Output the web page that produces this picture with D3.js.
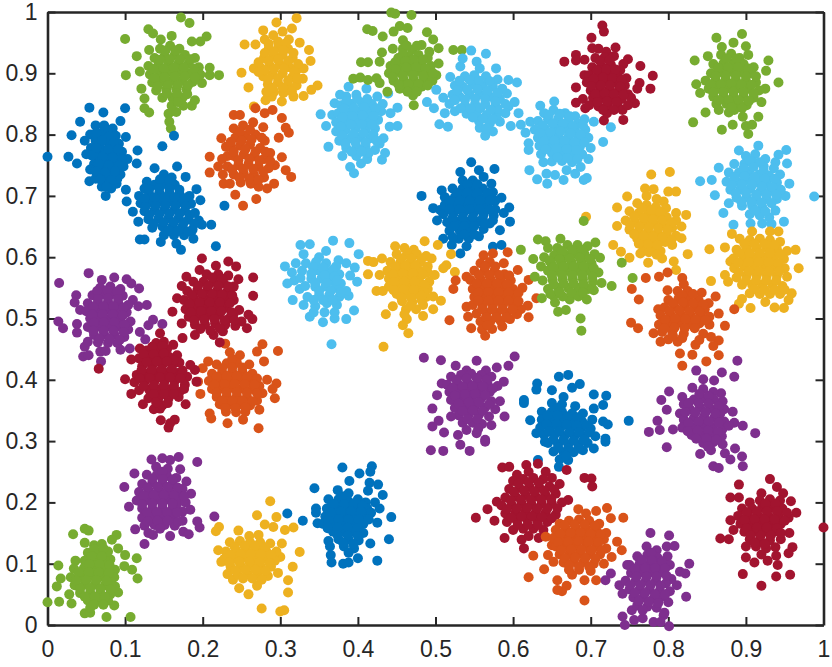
<!DOCTYPE html>
<html>
<head>
<meta charset="utf-8">
<script src="https://cdn.jsdelivr.net/npm/d3@7"></script>
<style>
  html, body { margin: 0; background: #fff; }
  svg { display: block; }
  .tick text { font-family: "Liberation Sans", Arial, sans-serif; }
</style>
</head>
<body>
<svg id="grafico" width="832" height="667"></svg>
<script>
const xTicks = [0, 0.1, 0.2, 0.3, 0.4, 0.5, 0.6, 0.7, 0.8, 0.9, 1];
const yTicks = [0, 0.1, 0.2, 0.3, 0.4, 0.5, 0.6, 0.7, 0.8, 0.9, 1];

// valores, um array por nuvem de pontos
const amareloA = [[.254,.947],[.25,.901],[.259,.877],[.266,.908],[.268,.947],[.278,.97],[.295,.983],[.321,.99],[.315,.973],[.325,.95],[.337,.938],[.339,.92],[.33,.908],[.329,.891],[.348,.88],[.34,.873],[.33,.863],[.317,.862],[.302,.854],[.266,.846],[.289,.862],[.281,.856],[.28,.955],[.291,.962],[.303,.968],[.311,.955],[.285,.94],[.298,.945],[.31,.94],[.279,.925],[.291,.928],[.303,.93],[.316,.925],[.274,.91],[.286,.913],[.299,.915],[.312,.91],[.321,.905],[.278,.895],[.29,.898],[.303,.9],[.315,.893],[.284,.882],[.297,.885],[.31,.878],[.321,.88],[.292,.87],[.304,.868],[.285,.948],[.297,.952],[.307,.949],[.28,.933],[.292,.936],[.304,.938],[.317,.933],[.272,.918],[.285,.92],[.297,.922],[.31,.92],[.323,.915],[.28,.905],[.292,.907],[.305,.908],[.318,.902],[.272,.902],[.284,.89],[.297,.892],[.31,.888],[.322,.892],[.29,.876],[.303,.877],[.315,.87],[.282,.87]];
const laranjaA = [[.227,.72],[.242,.702],[.252,.684],[.269,.695],[.209,.764],[.209,.738],[.224,.794],[.24,.832],[.248,.832],[.268,.843],[.28,.835],[.311,.803],[.307,.811],[.302,.827],[.314,.731],[.307,.742],[.302,.763],[.29,.84],[.298,.795],[.292,.72],[.283,.712],[.22,.748],[.23,.78],[.24,.81],[.252,.815],[.265,.82],[.278,.812],[.242,.795],[.255,.798],[.268,.8],[.28,.79],[.232,.765],[.236,.78],[.248,.782],[.261,.784],[.274,.778],[.287,.77],[.225,.76],[.24,.765],[.253,.768],[.266,.765],[.279,.76],[.293,.75],[.232,.748],[.246,.75],[.259,.752],[.272,.748],[.285,.745],[.24,.735],[.253,.736],[.266,.735],[.279,.73],[.249,.722],[.262,.72],[.272,.715],[.235,.72],[.248,.805],[.261,.808],[.236,.788],[.25,.79],[.263,.792],[.276,.795],[.24,.772],[.255,.776],[.268,.772],[.281,.772],[.246,.758],[.26,.76],[.273,.758],[.287,.757],[.238,.743],[.252,.744],[.265,.744],[.278,.74],[.247,.73],[.26,.728],[.272,.726],[.226,.735]];
const azulClaroA = [[.352,.833],[.359,.814],[.362,.78],[.38,.765],[.39,.747],[.395,.737],[.404,.753],[.412,.76],[.431,.759],[.435,.77],[.433,.794],[.451,.844],[.451,.814],[.441,.813],[.388,.878],[.411,.875],[.377,.865],[.37,.851],[.367,.832],[.439,.867],[.385,.862],[.398,.865],[.425,.862],[.378,.848],[.392,.85],[.405,.852],[.418,.85],[.432,.85],[.375,.835],[.388,.836],[.402,.838],[.415,.836],[.43,.838],[.442,.835],[.372,.82],[.385,.822],[.398,.825],[.412,.822],[.426,.824],[.372,.805],[.384,.808],[.397,.81],[.41,.808],[.422,.81],[.376,.79],[.39,.794],[.403,.796],[.416,.794],[.428,.785],[.385,.778],[.398,.78],[.41,.78],[.422,.775],[.398,.765],[.414,.77],[.385,.855],[.399,.858],[.412,.858],[.382,.842],[.395,.843],[.408,.845],[.423,.843],[.38,.828],[.393,.83],[.406,.831],[.42,.83],[.378,.813],[.391,.816],[.405,.817],[.418,.816],[.38,.798],[.394,.801],[.407,.802],[.42,.8],[.384,.785],[.397,.787],[.41,.787],[.424,.79],[.392,.772],[.405,.772]];
const verdeB = [[.443,.999],[.448,.997],[.469,.995],[.412,.972],[.419,.969],[.432,.96],[.446,.968],[.454,.977],[.464,.974],[.489,.967],[.497,.955],[.523,.938],[.534,.938],[.431,.934],[.428,.919],[.404,.918],[.413,.918],[.394,.891],[.403,.893],[.413,.889],[.424,.892],[.428,.884],[.438,.87],[.472,.848],[.471,.864],[.454,.875],[.458,.954],[.504,.941],[.504,.916],[.501,.897],[.482,.946],[.445,.94],[.458,.94],[.47,.938],[.492,.935],[.452,.925],[.465,.928],[.478,.93],[.49,.925],[.442,.912],[.455,.914],[.468,.916],[.481,.916],[.494,.912],[.44,.9],[.452,.902],[.465,.904],[.478,.904],[.49,.9],[.446,.888],[.459,.89],[.472,.89],[.485,.888],[.496,.888],[.458,.878],[.47,.876],[.482,.878],[.463,.945],[.476,.945],[.458,.932],[.471,.922],[.484,.922],[.448,.918],[.461,.92],[.449,.907],[.462,.91],[.475,.91],[.487,.908],[.445,.894],[.458,.896],[.471,.897],[.484,.896],[.497,.9],[.452,.882],[.465,.883],[.478,.883],[.49,.88],[.464,.87],[.476,.87]];
const azulClaroB = [[.489,.853],[.498,.843],[.505,.817],[.516,.813],[.512,.835],[.501,.873],[.519,.894],[.532,.911],[.535,.924],[.546,.937],[.565,.932],[.553,.919],[.557,.908],[.578,.908],[.594,.889],[.605,.885],[.592,.867],[.602,.853],[.594,.846],[.607,.835],[.597,.814],[.583,.821],[.574,.805],[.564,.798],[.557,.811],[.51,.86],[.525,.88],[.538,.895],[.55,.897],[.565,.895],[.58,.89],[.522,.865],[.535,.878],[.548,.882],[.561,.88],[.574,.878],[.586,.875],[.518,.85],[.531,.862],[.544,.866],[.557,.866],[.57,.862],[.583,.858],[.525,.838],[.538,.848],[.551,.85],[.564,.85],[.577,.846],[.59,.835],[.54,.834],[.553,.836],[.566,.832],[.579,.832],[.556,.822],[.57,.818],[.58,.842],[.531,.888],[.544,.889],[.556,.888],[.57,.887],[.528,.872],[.541,.873],[.554,.874],[.567,.871],[.58,.868],[.525,.856],[.538,.857],[.551,.858],[.564,.858],[.577,.854],[.59,.85],[.532,.843],[.545,.842],[.558,.843],[.571,.84],[.548,.828],[.561,.826],[.574,.825],[.565,.81]];
const azulClaroC = [[.61,.816],[.616,.803],[.622,.821],[.635,.847],[.653,.854],[.62,.786],[.62,.775],[.621,.742],[.631,.727],[.644,.72],[.643,.736],[.654,.734],[.639,.755],[.667,.835],[.726,.812],[.716,.788],[.704,.821],[.697,.76],[.695,.729],[.691,.726],[.68,.736],[.665,.726],[.669,.742],[.687,.747],[.64,.835],[.652,.84],[.68,.83],[.692,.825],[.632,.822],[.645,.825],[.658,.826],[.671,.822],[.684,.818],[.628,.808],[.641,.81],[.654,.812],[.667,.81],[.68,.806],[.693,.808],[.632,.795],[.645,.797],[.658,.798],[.671,.796],[.684,.794],[.697,.795],[.634,.782],[.647,.784],[.66,.785],[.673,.783],[.686,.78],[.7,.778],[.636,.768],[.65,.77],[.663,.771],[.676,.769],[.689,.768],[.65,.756],[.663,.757],[.676,.755],[.646,.832],[.66,.834],[.673,.83],[.638,.815],[.651,.818],[.664,.818],[.677,.814],[.69,.815],[.635,.802],[.648,.804],[.661,.805],[.674,.802],[.687,.8],[.64,.789],[.653,.79],[.666,.79],[.679,.788],[.692,.787],[.642,.776],[.656,.777],[.669,.776],[.682,.774],[.657,.763],[.67,.762],[.683,.76]];
const vermelhoA = [[.715,.978],[.717,.968],[.701,.958],[.702,.941],[.681,.93],[.681,.921],[.666,.919],[.692,.922],[.732,.942],[.748,.923],[.764,.912],[.78,.896],[.763,.884],[.76,.875],[.777,.875],[.757,.851],[.742,.824],[.717,.823],[.721,.835],[.693,.843],[.681,.852],[.681,.877],[.692,.897],[.741,.84],[.71,.94],[.72,.935],[.706,.925],[.718,.926],[.73,.928],[.742,.915],[.702,.91],[.714,.912],[.726,.914],[.738,.905],[.698,.897],[.71,.898],[.722,.9],[.734,.898],[.746,.892],[.695,.885],[.707,.885],[.719,.887],[.731,.885],[.744,.88],[.7,.872],[.712,.873],[.724,.874],[.736,.872],[.748,.866],[.69,.858],[.703,.86],[.715,.86],[.727,.86],[.74,.858],[.752,.86],[.698,.848],[.71,.846],[.722,.848],[.735,.846],[.748,.848],[.712,.92],[.724,.921],[.708,.905],[.72,.906],[.732,.906],[.704,.891],[.716,.893],[.728,.892],[.74,.89],[.701,.879],[.713,.88],[.725,.88],[.738,.878],[.706,.866],[.718,.867],[.73,.866],[.742,.865],[.709,.853],[.721,.854],[.733,.853],[.716,.84],[.73,.84]];
const azulClaroD = [[.916,.782],[.952,.775],[.891,.774],[.942,.767],[.953,.753],[.865,.746],[.841,.724],[.856,.726],[.956,.72],[.988,.699],[.951,.7],[.86,.701],[.878,.688],[.871,.672],[.938,.676],[.884,.653],[.906,.655],[.921,.655],[.933,.654],[.949,.658],[.9,.765],[.912,.768],[.925,.76],[.938,.755],[.885,.752],[.898,.752],[.91,.754],[.923,.748],[.936,.745],[.878,.738],[.891,.738],[.904,.74],[.917,.735],[.93,.733],[.944,.735],[.875,.723],[.888,.724],[.901,.726],[.914,.722],[.927,.72],[.94,.722],[.88,.71],[.893,.711],[.906,.712],[.919,.708],[.932,.708],[.945,.71],[.888,.697],[.901,.698],[.914,.695],[.927,.695],[.94,.695],[.895,.684],[.908,.684],[.921,.682],[.905,.67],[.918,.668],[.93,.665],[.905,.758],[.918,.755],[.897,.745],[.91,.747],[.923,.741],[.885,.731],[.898,.732],[.911,.731],[.924,.728],[.937,.728],[.882,.717],[.895,.718],[.908,.718],[.921,.715],[.934,.714],[.887,.704],[.9,.705],[.913,.702],[.926,.702],[.939,.702],[.894,.691],[.907,.69],[.92,.689],[.933,.688],[.912,.676],[.925,.675]];
const amareloD = [[.882,.638],[.873,.616],[.964,.612],[.968,.582],[.959,.541],[.955,.53],[.949,.517],[.937,.518],[.906,.517],[.895,.532],[.891,.524],[.877,.56],[.873,.571],[.88,.593],[.942,.642],[.908,.642],[.931,.642],[.953,.568],[.855,.561],[.853,.613],[.925,.527],[.892,.63],[.905,.628],[.918,.63],[.931,.628],[.944,.625],[.888,.612],[.901,.614],[.914,.615],[.927,.615],[.94,.613],[.953,.61],[.884,.598],[.897,.6],[.91,.6],[.923,.6],[.936,.6],[.949,.597],[.885,.582],[.898,.585],[.911,.585],[.924,.585],[.937,.585],[.95,.582],[.888,.567],[.901,.57],[.914,.57],[.927,.57],[.94,.57],[.895,.555],[.908,.555],[.921,.555],[.934,.555],[.947,.553],[.905,.541],[.918,.54],[.931,.54],[.944,.54],[.898,.622],[.911,.622],[.924,.622],[.937,.62],[.892,.607],[.905,.607],[.918,.607],[.931,.607],[.944,.605],[.89,.591],[.903,.592],[.916,.592],[.929,.592],[.942,.59],[.891,.575],[.904,.577],[.917,.577],[.93,.577],[.943,.577],[.9,.562],[.913,.562],[.926,.562],[.939,.562],[.911,.548],[.924,.547],[.937,.547],[.95,.547]];
const amareloC = [[.778,.735],[.802,.739],[.747,.699],[.734,.681],[.77,.712],[.781,.711],[.8,.707],[.81,.707],[.794,.691],[.823,.669],[.729,.62],[.739,.609],[.75,.599],[.764,.606],[.774,.591],[.792,.598],[.807,.593],[.81,.579],[.825,.605],[.817,.631],[.805,.62],[.734,.651],[.694,.666],[.772,.7],[.785,.695],[.76,.688],[.772,.685],[.784,.682],[.797,.68],[.81,.672],[.75,.675],[.762,.672],[.774,.67],[.786,.668],[.798,.665],[.81,.66],[.745,.66],[.757,.658],[.769,.656],[.781,.655],[.793,.652],[.805,.648],[.817,.65],[.75,.645],[.762,.643],[.774,.642],[.786,.64],[.798,.638],[.81,.635],[.76,.63],[.772,.628],[.784,.627],[.796,.625],[.768,.617],[.78,.615],[.79,.61],[.766,.68],[.778,.677],[.79,.674],[.756,.666],[.768,.664],[.78,.662],[.792,.66],[.804,.656],[.751,.652],[.763,.65],[.775,.649],[.787,.647],[.799,.645],[.756,.637],[.768,.635],[.78,.634],[.792,.632],[.804,.628],[.762,.622],[.774,.621],[.786,.62],[.775,.608],[.785,.604]];
const laranjaC = [[.771,.566],[.753,.548],[.762,.531],[.788,.568],[.799,.575],[.818,.566],[.752,.493],[.761,.484],[.781,.476],[.79,.462],[.815,.443],[.818,.423],[.831,.441],[.849,.43],[.865,.44],[.865,.464],[.873,.488],[.865,.508],[.861,.536],[.885,.515],[.843,.542],[.799,.546],[.787,.515],[.835,.457],[.858,.455],[.82,.556],[.812,.545],[.825,.545],[.8,.53],[.813,.532],[.826,.532],[.839,.53],[.852,.525],[.795,.518],[.808,.519],[.821,.52],[.834,.518],[.847,.515],[.79,.505],[.803,.506],[.816,.507],[.829,.505],[.842,.505],[.853,.503],[.788,.49],[.801,.492],[.814,.493],[.827,.491],[.84,.492],[.853,.49],[.792,.478],[.805,.478],[.82,.475],[.845,.475],[.855,.47],[.8,.466],[.812,.462],[.84,.465],[.818,.538],[.832,.54],[.806,.525],[.819,.526],[.832,.525],[.845,.523],[.801,.512],[.814,.513],[.827,.512],[.84,.511],[.796,.498],[.809,.5],[.822,.499],[.835,.498],[.848,.497],[.795,.484],[.808,.485],[.821,.484],[.834,.484],[.806,.472],[.818,.468]];
const roxoB = [[.485,.436],[.602,.438],[.507,.432],[.594,.423],[.526,.423],[.553,.431],[.579,.42],[.588,.397],[.583,.365],[.589,.34],[.572,.326],[.508,.394],[.502,.375],[.496,.353],[.504,.333],[.496,.324],[.511,.314],[.529,.31],[.553,.313],[.564,.302],[.494,.285],[.51,.284],[.532,.294],[.544,.284],[.564,.299],[.54,.415],[.565,.415],[.52,.405],[.533,.408],[.546,.41],[.559,.408],[.572,.405],[.515,.392],[.528,.395],[.541,.396],[.554,.396],[.567,.393],[.58,.39],[.518,.38],[.531,.382],[.544,.383],[.557,.383],[.57,.38],[.52,.367],[.533,.369],[.546,.37],[.559,.37],[.572,.365],[.525,.354],[.538,.356],[.551,.357],[.564,.355],[.577,.352],[.53,.342],[.543,.343],[.556,.343],[.569,.34],[.535,.33],[.548,.33],[.56,.328],[.52,.34],[.54,.318],[.555,.32],[.527,.4],[.54,.402],[.553,.403],[.566,.4],[.522,.387],[.535,.389],[.548,.39],[.561,.389],[.574,.386],[.525,.374],[.538,.376],[.551,.377],[.564,.375],[.53,.361],[.543,.363],[.556,.363],[.569,.36],[.535,.349],[.548,.35],[.561,.349],[.541,.336],[.554,.336]];
const roxoC = [[.889,.431],[.836,.415],[.869,.412],[.885,.405],[.845,.401],[.859,.399],[.801,.381],[.831,.387],[.791,.367],[.798,.351],[.786,.333],[.775,.315],[.789,.318],[.806,.319],[.896,.325],[.912,.313],[.883,.348],[.868,.378],[.798,.29],[.841,.279],[.858,.259],[.865,.256],[.896,.259],[.895,.275],[.886,.288],[.873,.28],[.88,.27],[.818,.372],[.845,.385],[.858,.38],[.87,.365],[.82,.36],[.833,.368],[.846,.37],[.859,.368],[.872,.352],[.815,.345],[.828,.352],[.841,.355],[.854,.353],[.867,.345],[.82,.335],[.833,.338],[.846,.34],[.859,.338],[.872,.332],[.885,.33],[.818,.322],[.831,.323],[.844,.325],[.857,.323],[.87,.32],[.83,.31],[.843,.31],[.856,.31],[.869,.308],[.845,.297],[.858,.298],[.87,.295],[.855,.285],[.84,.377],[.852,.374],[.826,.362],[.839,.362],[.852,.361],[.865,.357],[.822,.347],[.835,.347],[.848,.347],[.861,.345],[.826,.33],[.839,.332],[.852,.332],[.865,.33],[.878,.325],[.825,.316],[.838,.317],[.851,.317],[.864,.315],[.836,.304],[.849,.304],[.862,.302],[.851,.291]];
const azulE = [[.671,.408],[.659,.405],[.676,.387],[.686,.393],[.704,.376],[.72,.374],[.716,.359],[.68,.357],[.704,.353],[.716,.332],[.722,.327],[.749,.333],[.719,.304],[.719,.299],[.614,.367],[.614,.362],[.631,.394],[.63,.384],[.622,.334],[.65,.383],[.63,.313],[.704,.288],[.632,.269],[.641,.299],[.671,.269],[.659,.258],[.665,.372],[.65,.362],[.663,.36],[.69,.345],[.637,.348],[.65,.348],[.663,.348],[.676,.345],[.637,.335],[.65,.335],[.663,.335],[.676,.332],[.689,.332],[.702,.335],[.635,.322],[.648,.322],[.661,.322],[.674,.32],[.687,.32],[.7,.32],[.64,.31],[.653,.31],[.666,.308],[.679,.308],[.692,.308],[.706,.308],[.645,.297],[.658,.295],[.671,.295],[.684,.295],[.696,.297],[.652,.283],[.665,.282],[.678,.282],[.69,.285],[.66,.27],[.657,.354],[.644,.342],[.657,.342],[.67,.34],[.683,.339],[.643,.328],[.656,.328],[.669,.327],[.682,.326],[.695,.326],[.646,.316],[.659,.316],[.672,.314],[.685,.314],[.698,.314],[.652,.303],[.665,.302],[.678,.301],[.691,.302],[.658,.289],[.671,.288],[.684,.288],[.668,.276]];
const azulD = [[.38,.257],[.418,.259],[.416,.25],[.402,.247],[.389,.235],[.415,.232],[.426,.229],[.344,.223],[.413,.219],[.432,.212],[.309,.182],[.329,.17],[.346,.19],[.346,.183],[.348,.166],[.443,.176],[.425,.167],[.44,.14],[.416,.133],[.362,.137],[.365,.114],[.366,.102],[.381,.1],[.388,.102],[.4,.109],[.425,.105],[.428,.19],[.364,.128],[.374,.22],[.388,.215],[.4,.205],[.362,.205],[.375,.205],[.388,.202],[.41,.2],[.422,.2],[.36,.19],[.373,.192],[.386,.19],[.399,.192],[.412,.19],[.358,.177],[.371,.178],[.384,.178],[.397,.178],[.41,.178],[.355,.165],[.368,.165],[.381,.165],[.394,.165],[.407,.165],[.368,.152],[.381,.152],[.394,.152],[.407,.15],[.375,.14],[.388,.14],[.401,.138],[.382,.128],[.395,.125],[.38,.21],[.369,.198],[.382,.197],[.395,.198],[.406,.195],[.365,.184],[.378,.185],[.391,.185],[.404,.185],[.417,.183],[.362,.171],[.375,.172],[.388,.172],[.401,.172],[.414,.172],[.361,.158],[.374,.159],[.387,.159],[.4,.158],[.374,.146],[.387,.146],[.4,.145],[.381,.134],[.394,.132],[.388,.118]];
const vermelhoD = [[.586,.257],[.595,.258],[.617,.261],[.632,.263],[.552,.175],[.567,.189],[.576,.17],[.579,.201],[.589,.142],[.614,.125],[.611,.139],[.669,.253],[.692,.24],[.701,.239],[.702,.226],[.671,.204],[.62,.25],[.65,.24],[.605,.245],[.642,.25],[.6,.235],[.613,.238],[.626,.24],[.639,.238],[.595,.222],[.608,.224],[.621,.226],[.634,.224],[.647,.226],[.66,.23],[.59,.208],[.603,.21],[.616,.212],[.629,.21],[.642,.212],[.655,.214],[.585,.195],[.598,.196],[.611,.198],[.624,.196],[.637,.198],[.65,.198],[.663,.2],[.59,.182],[.603,.183],[.616,.185],[.629,.183],[.642,.183],[.655,.18],[.592,.168],[.605,.17],[.618,.172],[.631,.17],[.644,.168],[.6,.155],[.613,.157],[.626,.157],[.639,.155],[.62,.145],[.633,.142],[.607,.231],[.62,.233],[.633,.232],[.601,.217],[.614,.219],[.627,.218],[.64,.219],[.653,.221],[.597,.203],[.61,.204],[.623,.204],[.636,.205],[.649,.205],[.592,.189],[.605,.19],[.618,.191],[.631,.19],[.644,.19],[.657,.19],[.598,.175],[.611,.177],[.624,.177],[.637,.176],[.65,.174],[.606,.163],[.619,.164],[.632,.163]];
const laranjaE = [[.684,.189],[.694,.182],[.707,.186],[.721,.191],[.742,.175],[.726,.174],[.734,.136],[.74,.122],[.727,.111],[.717,.1],[.707,.073],[.692,.073],[.692,.04],[.669,.064],[.663,.055],[.657,.073],[.676,.082],[.626,.113],[.62,.078],[.64,.091],[.645,.114],[.652,.103],[.657,.057],[.642,.144],[.65,.13],[.66,.165],[.672,.17],[.685,.172],[.698,.17],[.711,.165],[.655,.155],[.668,.157],[.681,.158],[.694,.157],[.707,.155],[.72,.15],[.652,.142],[.665,.143],[.678,.144],[.691,.143],[.704,.142],[.717,.14],[.655,.128],[.668,.129],[.681,.13],[.694,.129],[.707,.128],[.72,.125],[.66,.115],[.673,.116],[.686,.117],[.699,.116],[.712,.115],[.665,.102],[.678,.103],[.691,.103],[.704,.1],[.672,.09],[.685,.09],[.7,.088],[.666,.163],[.679,.164],[.692,.164],[.705,.162],[.661,.149],[.674,.15],[.687,.151],[.7,.149],[.713,.148],[.658,.135],[.671,.136],[.684,.137],[.697,.136],[.71,.135],[.662,.122],[.675,.123],[.688,.123],[.701,.122],[.714,.121],[.667,.109],[.68,.11],[.693,.109],[.706,.108],[.672,.097],[.685,.096],[.698,.095]];
const roxoE = [[.777,.15],[.801,.146],[.798,.128],[.808,.129],[.827,.1],[.815,.087],[.822,.084],[.823,.046],[.8,.037],[.811,.065],[.726,.084],[.719,.073],[.737,.065],[.741,.051],[.741,.014],[.744,0],[.756,.008],[.767,.011],[.781,.005],[.794,.016],[.801,-.002],[.79,.005],[.753,.024],[.747,.098],[.772,.128],[.785,.122],[.76,.112],[.773,.114],[.786,.11],[.799,.112],[.75,.098],[.763,.1],[.776,.1],[.789,.098],[.802,.098],[.752,.085],[.765,.086],[.778,.086],[.791,.086],[.804,.075],[.745,.072],[.758,.072],[.771,.072],[.784,.072],[.797,.068],[.75,.058],[.763,.058],[.776,.058],[.789,.056],[.802,.055],[.755,.045],[.768,.045],[.781,.043],[.79,.045],[.76,.032],[.773,.03],[.785,.028],[.795,.02],[.778,.118],[.766,.106],[.779,.106],[.792,.104],[.757,.092],[.77,.093],[.783,.093],[.796,.092],[.759,.079],[.772,.079],[.785,.079],[.798,.08],[.751,.065],[.764,.065],[.777,.065],[.79,.064],[.757,.052],[.77,.052],[.783,.05],[.796,.05],[.762,.039],[.775,.038],[.787,.036],[.767,.024]];
const vermelhoE = [[.931,.238],[.891,.229],[.88,.208],[.891,.208],[.92,.215],[.958,.202],[.965,.183],[1,.159],[.956,.15],[.96,.127],[.955,.117],[.939,.113],[.941,.098],[.957,.082],[.939,.079],[.92,.064],[.896,.083],[.9,.11],[.911,.102],[.928,.105],[.867,.141],[.878,.14],[.88,.171],[.884,.155],[.94,.225],[.948,.215],[.905,.2],[.918,.203],[.931,.205],[.944,.203],[.895,.19],[.908,.19],[.921,.192],[.934,.192],[.947,.19],[.89,.178],[.903,.178],[.916,.178],[.929,.178],[.942,.178],[.955,.175],[.893,.165],[.906,.165],[.919,.165],[.932,.165],[.945,.165],[.898,.152],[.911,.152],[.924,.152],[.937,.152],[.905,.14],[.918,.14],[.931,.138],[.945,.14],[.9,.128],[.913,.128],[.926,.125],[.92,.115],[.925,.198],[.938,.198],[.901,.184],[.914,.185],[.927,.185],[.94,.185],[.953,.183],[.898,.171],[.911,.172],[.924,.172],[.937,.172],[.95,.17],[.901,.158],[.914,.159],[.927,.159],[.94,.158],[.906,.146],[.919,.146],[.932,.146],[.945,.15],[.911,.134],[.924,.132],[.938,.127]];
const amareloE = [[.287,.202],[.27,.179],[.295,.176],[.28,.164],[.291,.16],[.221,.16],[.217,.153],[.22,.122],[.224,.103],[.232,.083],[.239,.074],[.247,.06],[.259,.05],[.276,.027],[.27,.064],[.3,.022],[.246,.154],[.305,.024],[.31,.053],[.31,.073],[.316,.095],[.325,.119],[.302,.133],[.317,.159],[.306,.155],[.3,.111],[.26,.145],[.272,.147],[.235,.135],[.248,.137],[.261,.135],[.274,.135],[.287,.133],[.23,.12],[.243,.122],[.256,.123],[.269,.122],[.282,.12],[.295,.12],[.228,.108],[.241,.108],[.254,.11],[.267,.108],[.28,.108],[.293,.105],[.236,.095],[.249,.096],[.262,.097],[.275,.095],[.288,.095],[.245,.082],[.258,.083],[.271,.082],[.284,.08],[.297,.085],[.241,.128],[.254,.129],[.267,.129],[.28,.127],[.236,.114],[.249,.116],[.262,.116],[.275,.115],[.288,.114],[.234,.102],[.247,.103],[.26,.103],[.273,.102],[.286,.101],[.242,.089],[.255,.09],[.268,.09],[.281,.088],[.252,.076],[.264,.076],[.276,.074]];
const roxoD = [[.193,.266],[.169,.274],[.134,.27],[.148,.272],[.158,.269],[.112,.247],[.099,.225],[.105,.193],[.113,.156],[.125,.132],[.136,.147],[.158,.145],[.175,.152],[.182,.148],[.196,.159],[.193,.169],[.184,.188],[.185,.214],[.179,.234],[.171,.254],[.215,.177],[.14,.258],[.155,.255],[.128,.245],[.141,.245],[.154,.243],[.166,.24],[.122,.23],[.135,.232],[.148,.232],[.161,.23],[.174,.222],[.118,.217],[.131,.218],[.144,.219],[.157,.218],[.17,.21],[.115,.203],[.128,.204],[.141,.205],[.154,.205],[.167,.198],[.178,.2],[.122,.19],[.135,.19],[.148,.191],[.161,.19],[.174,.185],[.122,.175],[.135,.176],[.148,.177],[.161,.176],[.174,.17],[.125,.162],[.138,.163],[.151,.163],[.164,.162],[.13,.15],[.148,.25],[.135,.239],[.148,.238],[.161,.237],[.129,.224],[.142,.225],[.155,.225],[.168,.224],[.124,.211],[.137,.212],[.15,.212],[.163,.211],[.176,.21],[.122,.197],[.135,.198],[.148,.198],[.161,.198],[.128,.183],[.141,.184],[.154,.184],[.167,.183],[.129,.169],[.142,.17],[.155,.17],[.168,.168],[.145,.157]];
const verdeE = [[.048,.157],[.053,.154],[.033,.148],[.048,.134],[.089,.147],[.083,.139],[.014,.097],[.017,.076],[.012,.063],[0,.037],[.015,.038],[.031,.035],[.048,.019],[.055,.02],[.076,.013],[.107,.013],[.086,.032],[.091,.053],[.116,.076],[.109,.09],[.099,.096],[.115,.109],[.1,.114],[.091,.125],[.081,.107],[.06,.13],[.07,.132],[.052,.118],[.065,.118],[.078,.12],[.036,.105],[.048,.105],[.061,.106],[.074,.105],[.087,.09],[.034,.092],[.047,.093],[.06,.093],[.073,.092],[.086,.078],[.03,.078],[.043,.079],[.056,.08],[.069,.079],[.082,.07],[.035,.065],[.048,.066],[.061,.066],[.074,.065],[.087,.063],[.028,.05],[.042,.052],[.055,.053],[.068,.052],[.081,.05],[.052,.04],[.065,.04],[.078,.04],[.055,.028],[.06,.124],[.072,.125],[.057,.112],[.07,.112],[.054,.099],[.067,.099],[.08,.098],[.04,.086],[.053,.086],[.066,.086],[.079,.085],[.037,.072],[.05,.073],[.063,.073],[.076,.072],[.042,.059],[.055,.06],[.068,.059],[.081,.058],[.048,.046],[.061,.046],[.074,.046],[.06,.033],[.072,.033]];
const vermelhoC = [[.066,.418],[.145,.476],[.1,.401],[.108,.377],[.123,.36],[.137,.352],[.145,.353],[.146,.334],[.156,.322],[.164,.335],[.158,.329],[.178,.36],[.19,.416],[.192,.397],[.184,.424],[.162,.457],[.174,.468],[.108,.433],[.119,.451],[.14,.46],[.15,.462],[.128,.448],[.141,.448],[.154,.45],[.167,.44],[.118,.435],[.131,.436],[.144,.437],[.157,.437],[.17,.428],[.122,.422],[.135,.423],[.148,.424],[.161,.424],[.174,.415],[.115,.408],[.128,.41],[.141,.411],[.154,.411],[.167,.411],[.18,.405],[.112,.396],[.125,.397],[.138,.398],[.151,.398],[.164,.398],[.177,.392],[.118,.383],[.131,.384],[.144,.384],[.157,.384],[.17,.38],[.13,.37],[.143,.37],[.156,.37],[.169,.372],[.148,.358],[.135,.454],[.148,.455],[.124,.442],[.137,.442],[.15,.443],[.163,.432],[.128,.429],[.141,.43],[.154,.43],[.121,.415],[.134,.416],[.147,.417],[.16,.417],[.173,.41],[.119,.402],[.132,.403],[.145,.404],[.158,.404],[.171,.403],[.124,.39],[.137,.391],[.15,.391],[.163,.39],[.176,.385],[.137,.377],[.15,.377],[.163,.377],[.14,.363],[.155,.362]];
const vermelhoB = [[.199,.598],[.217,.586],[.233,.593],[.243,.585],[.265,.567],[.265,.537],[.196,.579],[.179,.568],[.173,.553],[.167,.533],[.161,.511],[.173,.492],[.19,.473],[.214,.473],[.222,.461],[.226,.479],[.257,.484],[.264,.499],[.259,.506],[.247,.514],[.246,.564],[.205,.572],[.22,.572],[.233,.57],[.188,.56],[.201,.56],[.214,.56],[.227,.558],[.24,.552],[.18,.545],[.193,.546],[.206,.547],[.219,.546],[.232,.545],[.176,.53],[.189,.532],[.202,.533],[.215,.533],[.228,.532],[.24,.53],[.178,.515],[.191,.518],[.204,.519],[.217,.519],[.23,.518],[.24,.508],[.182,.503],[.195,.505],[.208,.506],[.221,.506],[.234,.5],[.25,.495],[.19,.49],[.203,.49],[.216,.492],[.229,.49],[.242,.488],[.21,.48],[.212,.567],[.225,.565],[.194,.553],[.207,.553],[.22,.553],[.233,.552],[.186,.538],[.199,.54],[.212,.54],[.225,.539],[.238,.538],[.183,.524],[.196,.526],[.209,.526],[.222,.526],[.235,.525],[.185,.51],[.198,.512],[.211,.512],[.224,.512],[.237,.51],[.189,.497],[.202,.498],[.215,.499],[.228,.497],[.241,.497],[.197,.483],[.222,.484]];
const roxoA = [[.015,.558],[.053,.574],[.086,.567],[.102,.564],[.108,.557],[.118,.549],[.07,.563],[.037,.538],[.035,.526],[.042,.514],[.014,.495],[.02,.484],[.038,.491],[.038,.477],[.048,.454],[.046,.438],[.053,.44],[.069,.43],[.068,.446],[.094,.449],[.106,.451],[.126,.466],[.119,.478],[.13,.489],[.136,.498],[.148,.491],[.128,.522],[.068,.55],[.081,.552],[.094,.548],[.058,.538],[.071,.54],[.084,.54],[.097,.537],[.11,.53],[.052,.525],[.065,.526],[.078,.527],[.091,.526],[.104,.522],[.117,.52],[.05,.512],[.063,.513],[.076,.514],[.089,.513],[.102,.51],[.055,.5],[.068,.5],[.081,.5],[.094,.5],[.107,.495],[.052,.486],[.065,.487],[.078,.487],[.091,.487],[.104,.482],[.06,.473],[.073,.474],[.086,.474],[.099,.47],[.052,.462],[.065,.461],[.078,.46],[.09,.46],[.075,.447],[.064,.545],[.077,.546],[.09,.544],[.065,.532],[.078,.533],[.091,.532],[.059,.519],[.072,.52],[.085,.52],[.098,.518],[.058,.506],[.071,.507],[.084,.507],[.097,.505],[.06,.493],[.073,.494],[.086,.494],[.099,.49],[.059,.48],[.072,.48],[.085,.48],[.098,.478],[.067,.467],[.08,.467],[.093,.465]];
const laranjaD = [[.277,.458],[.27,.446],[.297,.447],[.279,.43],[.207,.43],[.2,.419],[.194,.397],[.197,.377],[.209,.345],[.211,.337],[.232,.329],[.252,.335],[.272,.321],[.273,.351],[.293,.37],[.295,.394],[.283,.4],[.229,.459],[.235,.445],[.248,.44],[.26,.425],[.218,.425],[.231,.427],[.244,.428],[.212,.41],[.225,.412],[.238,.413],[.251,.414],[.264,.41],[.208,.398],[.221,.399],[.234,.4],[.247,.4],[.26,.398],[.273,.39],[.212,.385],[.225,.386],[.238,.387],[.251,.386],[.264,.385],[.277,.378],[.29,.385],[.218,.372],[.231,.373],[.244,.373],[.257,.372],[.27,.366],[.222,.36],[.235,.36],[.248,.36],[.261,.358],[.23,.348],[.243,.347],[.255,.348],[.238,.434],[.225,.419],[.238,.42],[.251,.42],[.218,.405],[.231,.406],[.244,.406],[.257,.405],[.27,.402],[.215,.392],[.228,.393],[.241,.393],[.254,.393],[.267,.392],[.218,.379],[.231,.38],[.244,.38],[.257,.379],[.27,.378],[.225,.366],[.238,.366],[.251,.366],[.264,.365],[.229,.354],[.242,.354],[.255,.355]];
const azulClaroE = [[.326,.62],[.338,.621],[.368,.627],[.389,.623],[.401,.605],[.359,.61],[.306,.585],[.309,.557],[.316,.53],[.338,.503],[.355,.494],[.385,.499],[.395,.513],[.388,.537],[.399,.56],[.396,.583],[.366,.458],[.37,.5],[.33,.605],[.35,.6],[.375,.595],[.32,.59],[.333,.59],[.346,.592],[.359,.59],[.372,.585],[.385,.59],[.315,.575],[.328,.578],[.35,.578],[.363,.576],[.376,.572],[.39,.57],[.318,.562],[.34,.565],[.353,.565],[.366,.562],[.378,.557],[.325,.548],[.345,.552],[.358,.552],[.371,.55],[.385,.545],[.335,.535],[.35,.538],[.363,.538],[.376,.535],[.33,.522],[.345,.52],[.36,.525],[.373,.522],[.343,.51],[.357,.51],[.37,.51],[.342,.584],[.355,.583],[.368,.58],[.326,.566],[.34,.573],[.357,.571],[.37,.568],[.345,.558],[.36,.558],[.373,.562],[.332,.553],[.35,.545],[.365,.545],[.378,.543],[.343,.53],[.355,.53],[.368,.53]];
const amareloB = [[.486,.626],[.503,.62],[.448,.618],[.413,.594],[.42,.592],[.431,.598],[.413,.572],[.428,.571],[.424,.545],[.445,.52],[.436,.507],[.463,.499],[.458,.489],[.465,.476],[.433,.454],[.484,.504],[.497,.515],[.507,.529],[.497,.536],[.484,.522],[.52,.605],[.514,.587],[.51,.582],[.525,.576],[.499,.571],[.495,.598],[.46,.615],[.472,.612],[.45,.605],[.463,.604],[.476,.605],[.488,.602],[.442,.592],[.455,.592],[.468,.592],[.481,.592],[.49,.585],[.438,.578],[.451,.579],[.464,.58],[.477,.58],[.49,.575],[.44,.565],[.453,.566],[.466,.566],[.479,.566],[.492,.56],[.44,.552],[.453,.553],[.466,.553],[.479,.553],[.49,.548],[.432,.545],[.45,.54],[.463,.54],[.476,.54],[.488,.535],[.457,.528],[.47,.527],[.482,.53],[.462,.515],[.475,.515],[.46,.507],[.456,.598],[.469,.598],[.482,.598],[.448,.585],[.461,.586],[.474,.586],[.487,.578],[.445,.572],[.458,.573],[.471,.573],[.484,.572],[.447,.559],[.46,.56],[.473,.56],[.486,.555],[.446,.546],[.459,.547],[.472,.547],[.485,.543],[.456,.534],[.469,.533],[.482,.537],[.468,.521]];
const azulC = [[.546,.755],[.532,.739],[.556,.742],[.576,.744],[.562,.731],[.482,.70],[.508,.709],[.585,.697],[.595,.681],[.497,.68],[.506,.677],[.51,.63],[.521,.62],[.532,.606],[.57,.655],[.583,.644],[.596,.658],[.574,.617],[.585,.62],[.535,.725],[.548,.725],[.572,.72],[.522,.712],[.535,.712],[.548,.712],[.561,.712],[.574,.706],[.512,.698],[.525,.698],[.538,.698],[.551,.698],[.564,.698],[.577,.692],[.512,.685],[.525,.685],[.538,.685],[.551,.685],[.564,.685],[.577,.678],[.51,.67],[.523,.671],[.536,.672],[.549,.672],[.562,.67],[.575,.668],[.588,.672],[.515,.657],[.528,.658],[.541,.658],[.554,.658],[.562,.646],[.502,.66],[.518,.643],[.531,.644],[.544,.644],[.556,.634],[.53,.63],[.543,.63],[.522,.633],[.54,.618],[.541,.719],[.554,.719],[.528,.705],[.541,.705],[.554,.705],[.567,.705],[.518,.692],[.531,.692],[.544,.692],[.557,.692],[.57,.692],[.518,.678],[.531,.678],[.544,.678],[.557,.678],[.57,.678],[.522,.664],[.535,.665],[.548,.665],[.561,.664],[.574,.66],[.524,.651],[.537,.651],[.55,.651],[.563,.655],[.537,.637],[.55,.637]];
const laranjaB = [[.593,.608],[.588,.59],[.526,.562],[.523,.548],[.518,.497],[.62,.563],[.63,.533],[.62,.502],[.619,.521],[.564,.472],[.546,.484],[.542,.503],[.54,.519],[.54,.568],[.562,.603],[.574,.606],[.606,.579],[.596,.499],[.586,.487],[.558,.59],[.57,.592],[.55,.578],[.563,.578],[.576,.578],[.589,.572],[.545,.563],[.558,.564],[.571,.564],[.584,.564],[.597,.562],[.548,.548],[.561,.55],[.574,.55],[.587,.55],[.6,.548],[.612,.55],[.55,.535],[.563,.536],[.576,.536],[.589,.536],[.602,.535],[.548,.522],[.561,.522],[.574,.522],[.587,.522],[.6,.522],[.61,.515],[.553,.508],[.566,.509],[.579,.509],[.592,.509],[.605,.507],[.558,.495],[.571,.496],[.584,.496],[.56,.482],[.573,.483],[.564,.585],[.577,.585],[.556,.571],[.569,.571],[.582,.571],[.595,.57],[.553,.557],[.566,.557],[.579,.557],[.592,.556],[.555,.542],[.568,.543],[.581,.543],[.594,.542],[.607,.542],[.555,.529],[.568,.529],[.581,.529],[.594,.529],[.607,.528],[.56,.515],[.573,.515],[.586,.515],[.599,.515],[.565,.502],[.578,.502],[.591,.502],[.567,.489]];
const verdeD = [[.61,.612],[.632,.629],[.642,.626],[.626,.597],[.628,.568],[.637,.533],[.654,.526],[.658,.511],[.661,.63],[.706,.624],[.712,.599],[.714,.558],[.727,.553],[.668,.514],[.687,.5],[.688,.48],[.695,.531],[.673,.531],[.704,.546],[.691,.659],[.754,.566],[.74,.591],[.645,.615],[.657,.615],[.67,.62],[.683,.62],[.696,.618],[.64,.6],[.653,.603],[.666,.605],[.679,.606],[.692,.605],[.705,.605],[.636,.585],[.649,.59],[.662,.592],[.675,.592],[.688,.592],[.701,.59],[.645,.578],[.658,.578],[.671,.578],[.684,.578],[.697,.578],[.71,.575],[.638,.562],[.651,.563],[.664,.564],[.677,.564],[.69,.564],[.703,.56],[.645,.548],[.658,.55],[.671,.55],[.684,.55],[.697,.548],[.652,.537],[.664,.536],[.684,.536],[.648,.54],[.663,.61],[.676,.612],[.689,.612],[.647,.594],[.66,.597],[.673,.598],[.686,.599],[.699,.597],[.652,.584],[.665,.585],[.678,.585],[.691,.585],[.704,.582],[.65,.57],[.663,.571],[.676,.571],[.689,.571],[.702,.568],[.652,.556],[.665,.557],[.678,.557],[.691,.556],[.66,.543],[.675,.542],[.69,.542]];
const azulA = [[0,.764],[.027,.764],[.054,.844],[.072,.836],[.1,.843],[.094,.822],[.042,.821],[.031,.799],[.101,.796],[.116,.774],[.115,.753],[.075,.70],[.054,.724],[.089,.72],[.038,.753],[.148,.781],[.163,.798],[.062,.815],[.073,.815],[.084,.81],[.055,.8],[.07,.803],[.088,.798],[.048,.79],[.062,.79],[.078,.788],[.092,.785],[.056,.778],[.07,.776],[.085,.775],[.096,.772],[.05,.768],[.064,.765],[.078,.763],[.09,.762],[.103,.76],[.06,.752],[.072,.751],[.086,.75],[.098,.748],[.055,.743],[.068,.739],[.08,.738],[.094,.735],[.062,.728],[.075,.725],[.09,.728],[.07,.715],[.082,.712],[.078,.808],[.063,.803],[.079,.797],[.07,.79],[.085,.786],[.063,.778],[.078,.776],[.091,.776],[.057,.766],[.071,.764],[.084,.763],[.096,.76],[.066,.752],[.079,.75],[.092,.75],[.062,.74],[.074,.738],[.087,.74],[.068,.727],[.082,.726],[.076,.715]];
const azulB = [[.138,.745],[.167,.748],[.178,.731],[.192,.711],[.197,.693],[.228,.684],[.101,.71],[.102,.691],[.11,.674],[.128,.723],[.119,.629],[.125,.629],[.117,.658],[.146,.625],[.166,.622],[.172,.612],[.217,.618],[.188,.63],[.211,.653],[.199,.653],[.15,.735],[.16,.73],[.125,.712],[.138,.718],[.151,.72],[.164,.718],[.118,.7],[.131,.703],[.144,.705],[.157,.705],[.17,.703],[.183,.7],[.12,.688],[.133,.69],[.146,.691],[.159,.691],[.172,.69],[.185,.687],[.125,.675],[.138,.677],[.151,.678],[.164,.678],[.177,.676],[.19,.672],[.13,.662],[.143,.663],[.156,.664],[.169,.664],[.182,.662],[.195,.66],[.135,.648],[.148,.65],[.161,.65],[.174,.65],[.187,.645],[.15,.636],[.163,.636],[.176,.636],[.145,.727],[.157,.725],[.131,.711],[.144,.712],[.157,.712],[.17,.71],[.125,.696],[.138,.697],[.151,.698],[.164,.698],[.177,.696],[.126,.682],[.139,.683],[.152,.684],[.165,.684],[.178,.683],[.131,.669],[.144,.67],[.157,.671],[.17,.671],[.183,.669],[.137,.655],[.15,.657],[.163,.657],[.176,.657],[.189,.654],[.155,.643],[.168,.643],[.181,.642]];
const verdeA = [[.1,.956],[.101,.897],[.172,.991],[.183,.982],[.13,.972],[.136,.965],[.205,.96],[.197,.952],[.186,.952],[.146,.955],[.16,.961],[.115,.928],[.131,.938],[.119,.903],[.121,.875],[.125,.859],[.125,.843],[.131,.836],[.156,.834],[.157,.821],[.159,.81],[.166,.837],[.186,.847],[.19,.856],[.199,.884],[.209,.909],[.221,.897],[.209,.897],[.145,.94],[.158,.945],[.17,.94],[.138,.925],[.151,.928],[.164,.93],[.177,.93],[.19,.925],[.13,.912],[.143,.914],[.156,.916],[.169,.916],[.182,.916],[.195,.91],[.132,.898],[.145,.9],[.158,.902],[.171,.902],[.184,.9],[.197,.898],[.135,.885],[.148,.887],[.161,.888],[.174,.888],[.187,.886],[.14,.872],[.153,.873],[.166,.874],[.179,.874],[.148,.86],[.161,.86],[.174,.86],[.16,.847],[.175,.847],[.152,.937],[.165,.937],[.145,.922],[.158,.923],[.171,.923],[.184,.923],[.137,.907],[.15,.908],[.163,.909],[.176,.909],[.189,.908],[.138,.892],[.151,.894],[.164,.895],[.177,.895],[.19,.893],[.142,.879],[.155,.88],[.168,.881],[.181,.88],[.154,.867],[.167,.867],[.18,.866],[.168,.853]];
const verdeC = [[.862,.958],[.895,.964],[.884,.95],[.869,.943],[.9,.944],[.903,.93],[.851,.928],[.834,.921],[.929,.921],[.926,.904],[.942,.885],[.925,.875],[.836,.882],[.841,.868],[.848,.836],[.832,.82],[.869,.808],[.883,.816],[.896,.829],[.903,.801],[.9,.814],[.908,.816],[.916,.829],[.92,.853],[.878,.836],[.865,.84],[.868,.93],[.881,.932],[.892,.925],[.858,.915],[.871,.916],[.884,.917],[.897,.915],[.91,.91],[.855,.9],[.868,.902],[.881,.903],[.894,.902],[.907,.9],[.848,.888],[.861,.888],[.874,.889],[.887,.889],[.9,.888],[.913,.885],[.852,.875],[.865,.875],[.878,.876],[.891,.876],[.904,.875],[.917,.872],[.858,.862],[.871,.862],[.884,.863],[.897,.862],[.91,.86],[.862,.85],[.875,.85],[.888,.85],[.901,.848],[.885,.84],[.875,.924],[.888,.924],[.864,.909],[.877,.91],[.89,.91],[.903,.908],[.861,.895],[.874,.896],[.887,.896],[.9,.895],[.913,.895],[.855,.882],[.868,.882],[.881,.883],[.894,.882],[.907,.881],[.858,.869],[.871,.869],[.884,.87],[.897,.869],[.91,.867],[.865,.856],[.878,.856],[.891,.856],[.904,.855],[.882,.845],[.895,.843]];

const cores = { azul: "#0072BD", laranja: "#D95319", amarelo: "#EDB120", roxo: "#7E2F8E", verde: "#77AC30", azulClaro: "#4DBEEE", vermelho: "#A2142F" };

// a ordem aqui é a ordem de desenho: importa onde as nuvens se sobrepõem
const nuvens = [
  [verdeA, cores.verde], [azulA, cores.azul], [azulB, cores.azul],
  [amareloA, cores.amarelo], [laranjaA, cores.laranja],
  [azulClaroA, cores.azulClaro], [verdeB, cores.verde], [azulClaroB, cores.azulClaro], [azulClaroC, cores.azulClaro],
  [vermelhoA, cores.vermelho], [verdeC, cores.verde],
  [azulClaroD, cores.azulClaro], [amareloD, cores.amarelo], [amareloC, cores.amarelo], [laranjaC, cores.laranja],
  [roxoB, cores.roxo], [roxoC, cores.roxo], [azulE, cores.azul], [azulD, cores.azul], [vermelhoD, cores.vermelho], [laranjaE, cores.laranja],
  [roxoE, cores.roxo], [vermelhoE, cores.vermelho], [amareloE, cores.amarelo], [roxoD, cores.roxo], [verdeE, cores.verde],
  [roxoA, cores.roxo], [laranjaD, cores.laranja], [vermelhoB, cores.vermelho], [vermelhoC, cores.vermelho],
  [azulClaroE, cores.azulClaro], [azulC, cores.azul], [amareloB, cores.amarelo], [laranjaB, cores.laranja], [verdeD, cores.verde]
];

const x = d3.scaleLinear().domain([0, 1]).range([47.5, 823.5]);
const y = d3.scaleLinear().domain([0, 1]).range([625, 12]);

const svg = d3.select("#grafico");
const corEixo = "#262626";

function estilo(sel) {
  sel.select(".domain").attr("stroke", corEixo).attr("stroke-width", 2.6);
  sel.selectAll(".tick line").attr("stroke", corEixo).attr("stroke-width", 2);
  sel.selectAll("text").attr("fill", corEixo).attr("font-size", "23px");
}

svg.append("g").attr("transform", `translate(0,${y(0)})`)
  .call(d3.axisBottom(x).tickValues(xTicks).tickFormat((d) => String(d)).tickSizeInner(-8).tickSizeOuter(0).tickPadding(16))
  .call(estilo);
svg.append("g").attr("transform", `translate(${x(0)},0)`)
  .call(d3.axisLeft(y).tickValues(yTicks).tickFormat((d) => String(d)).tickSizeInner(-8).tickSizeOuter(0).tickPadding(10))
  .call(estilo);
svg.append("g").attr("transform", `translate(0,${y(1)})`)
  .call(d3.axisTop(x).tickValues(xTicks).tickFormat("").tickSizeInner(-8).tickSizeOuter(0))
  .call(estilo);
svg.append("g").attr("transform", `translate(${x(1)},0)`)
  .call(d3.axisRight(y).tickValues(yTicks).tickFormat("").tickSizeInner(-8).tickSizeOuter(0))
  .call(estilo);

nuvens.forEach(([pontos, cor]) => {
  svg.append("g").selectAll("circle")
    .data(pontos)
    .join("circle")
    .attr("cx", (d) => x(d[0]))
    .attr("cy", (d) => y(d[1]))
    .attr("r", 5)
    .attr("fill", cor);
});
</script>
</body>
</html>
